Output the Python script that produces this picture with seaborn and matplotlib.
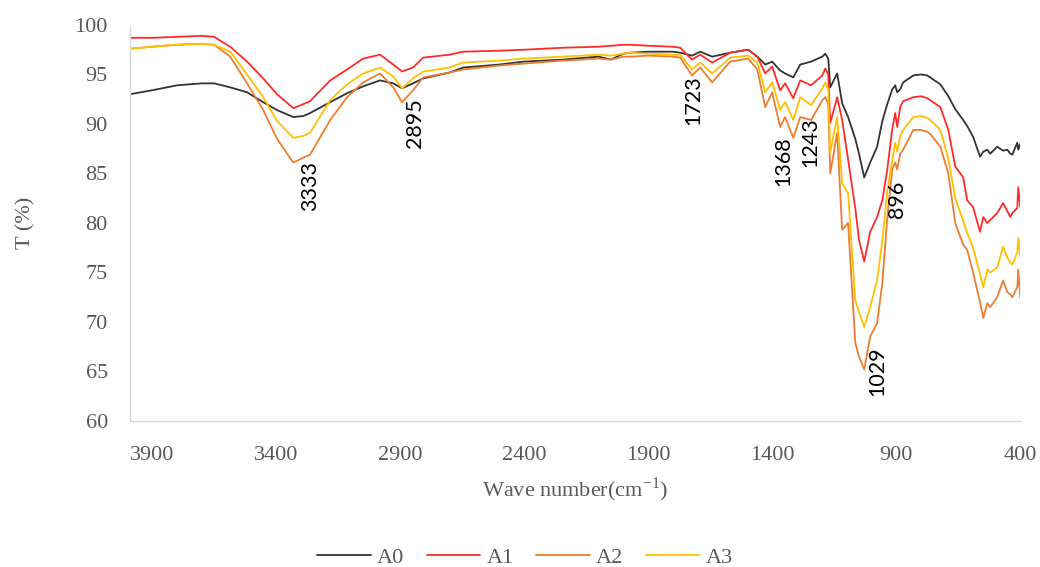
import matplotlib
matplotlib.use("Agg")
import matplotlib.pyplot as plt
import seaborn as sns
import pandas as pd

wavenumber = [3990, 3900, 3800, 3700, 3650, 3585, 3517, 3452, 3396, 3331, 3290, 3263, 3182, 3114,
              3049, 2981, 2928, 2892, 2848, 2807, 2700, 2646, 2500, 2400, 2243, 2100, 2050, 2000,
              1970, 1900, 1800, 1771, 1723, 1690, 1642, 1569, 1497, 1460, 1428, 1400, 1368, 1348,
              1315, 1287, 1243, 1198, 1186, 1174, 1166, 1138, 1118, 1094, 1065, 1050,
              1029, 1005, 977, 956, 936, 916, 904, 896, 884, 872, 831, 800, 775, 763, 722, 690,
              662, 630, 614, 590, 562, 549, 533, 521, 493, 469, 452, 440, 432, 412, 408, 400]

A0 = [93.0, 93.4, 93.9, 94.1, 94.1, 93.7, 93.2, 92.2, 91.4, 90.7, 90.8, 91.1, 92.2, 93.1,
      93.8, 94.4, 94.1, 93.6, 94.1, 94.6, 95.2, 95.7, 96.0, 96.3, 96.5, 96.8, 96.5, 97.1,
      97.2, 97.3, 97.3, 97.2, 96.9, 97.3, 96.8, 97.2, 97.5, 96.8, 96.0, 96.3, 95.4, 95.1,
      94.7, 96.0, 96.3, 96.8, 97.1, 96.6, 93.7, 95.1, 92.1, 90.7, 88.5, 87.0,
      84.6, 86.1, 87.7, 90.3, 92.0, 93.5, 93.9, 93.2, 93.5, 94.2, 94.9, 95.0, 94.9, 94.7, 94.0, 92.8,
      91.5, 90.4, 89.8, 88.7, 86.7, 87.2, 87.4, 87.0, 87.7, 87.3, 87.4, 87.0, 86.9, 88.1, 87.4, 88.0]

A1 = [98.7, 98.7, 98.8, 98.9, 98.8, 97.8, 96.3, 94.6, 93.0, 91.6, 92.0, 92.3, 94.4, 95.5,
      96.6, 97.0, 96.0, 95.3, 95.7, 96.7, 97.0, 97.3, 97.4, 97.5, 97.7, 97.8, 97.9, 98.0,
      98.0, 97.9, 97.8, 97.7, 96.5, 97.0, 96.2, 97.2, 97.5, 96.8, 95.1, 95.8, 93.4, 94.1,
      92.6, 94.4, 93.9, 94.9, 95.6, 95.0, 90.1, 92.7, 90.4, 86.4, 81.5, 78.3,
      76.1, 79.1, 80.6, 82.3, 85.4, 89.5, 91.1, 89.7, 91.7, 92.3, 92.7, 92.8, 92.6, 92.4, 91.7, 89.4,
      85.7, 84.6, 82.3, 81.6, 79.1, 80.6, 80.0, 80.3, 81.0, 82.0, 81.2, 80.6, 81.0, 81.5, 83.6, 81.6]

A2 = [97.6, 97.8, 98.0, 98.1, 98.0, 96.8, 94.1, 91.4, 88.5, 86.1, 86.6, 86.9, 90.4, 92.7,
      94.2, 95.1, 93.7, 92.2, 93.4, 94.7, 95.2, 95.5, 95.9, 96.1, 96.4, 96.6, 96.5, 96.8,
      96.8, 96.9, 96.8, 96.7, 94.9, 95.7, 94.2, 96.3, 96.6, 95.5, 91.7, 93.2, 89.7, 90.7,
      88.6, 90.7, 90.4, 92.4, 92.7, 92.0, 85.0, 89.1, 79.3, 80.0, 67.9, 66.5,
      65.2, 68.5, 69.9, 73.9, 80.6, 85.4, 86.1, 85.4, 87.0, 87.4, 89.4, 89.4, 89.2, 89.0, 87.7, 85.0,
      80.0, 77.8, 77.3, 75.0, 72.0, 70.4, 71.9, 71.5, 72.5, 74.2, 73.0, 72.8, 72.5, 73.5, 75.3, 72.5]

A3 = [97.6, 97.8, 98.0, 98.1, 98.0, 97.3, 95.0, 92.7, 90.3, 88.6, 88.8, 89.1, 92.4, 94.0,
      95.1, 95.7, 94.8, 93.6, 94.6, 95.3, 95.7, 96.2, 96.4, 96.6, 96.8, 97.0, 96.9, 97.1,
      97.2, 97.1, 97.0, 97.0, 95.5, 96.2, 95.1, 96.7, 96.9, 96.2, 93.2, 94.2, 91.4, 92.2,
      90.4, 92.7, 91.9, 93.6, 94.2, 93.5, 87.1, 90.7, 84.0, 83.0, 72.2, 71.0,
      69.5, 71.5, 74.2, 78.2, 83.2, 86.3, 88.1, 87.2, 88.8, 89.4, 90.7, 90.8, 90.6, 90.4, 89.4, 86.5,
      82.5, 80.2, 79.0, 77.5, 74.8, 73.5, 75.3, 75.0, 75.5, 77.6, 76.5, 76.0, 75.8, 77.0, 78.5, 76.6]

series_names = ["A0", "A1", "A2", "A3"]
colors = ["#333333", "#FF2B2B", "#ED7D31", "#FFC000"]

peak_labels = ["3333", "2895", "1723", "1368", "1243", "896", "1029"]
peak_x = [3263, 2840, 1719, 1356, 1247, 896, 977]
peak_y = [86.3, 92.6, 94.9, 88.7, 90.7, 84.3, 67.5]

x_ticks = [3900, 3400, 2900, 2400, 1900, 1400, 900, 400]
y_ticks = [60, 65, 70, 75, 80, 85, 90, 95, 100]

df = pd.concat([pd.DataFrame({"Wave": wavenumber, "T": vals, "Sample": name})
                for name, vals in zip(series_names, [A0, A1, A2, A3])], ignore_index=True)

sns.set_theme(style="white")
plt.rcParams["font.family"] = ["Liberation Serif", "DejaVu Serif"]
plt.rcParams["mathtext.fontset"] = "stix"

fig = plt.figure(figsize=(10.4, 5.67), dpi=100)
ax = fig.add_axes([0.125, 0.2575, 0.856, 0.6985])

sns.lineplot(data=df, x="Wave", y="T", hue="Sample", palette=colors, estimator=None,
             linewidth=1.3, ax=ax, legend=True)

ax.set_xlim(3989, 400)
ax.set_ylim(60, 100)
ax.set_xticks(x_ticks)
ax.set_yticks(y_ticks)
grey = "#595959"
ax.tick_params(axis="both", length=0, labelsize=16, colors=grey)
ax.tick_params(axis="x", pad=18)
ax.tick_params(axis="y", pad=16)
for s in ["top", "right"]:
    ax.spines[s].set_visible(False)
for s in ["left", "bottom"]:
    ax.spines[s].set_color("#D9D9D9")
    ax.spines[s].set_linewidth(1.0)

ax.set_xlabel(r"Wave number(cm$^{\mathregular{-1}}$)", fontsize=16, color=grey, labelpad=8)
ax.set_ylabel("T (%)", fontsize=16, color=grey, labelpad=28)

for lab, px, py in zip(peak_labels, peak_x, peak_y):
    ax.text(px, py, lab, rotation=90, ha="center", va="top", fontsize=15.5,
            family=["Lato", "DejaVu Sans"], color="black")

handles, labels = ax.get_legend_handles_labels()
ax.get_legend().remove()
fig.legend(handles, labels, loc="center", bbox_to_anchor=(525 / 1040, 1 - 558 / 567),
           ncol=4, frameon=False, fontsize=16, handlelength=2.4, handletextpad=0.3,
           columnspacing=1.0, labelcolor=grey)

fig.savefig("out.png", dpi=100)
